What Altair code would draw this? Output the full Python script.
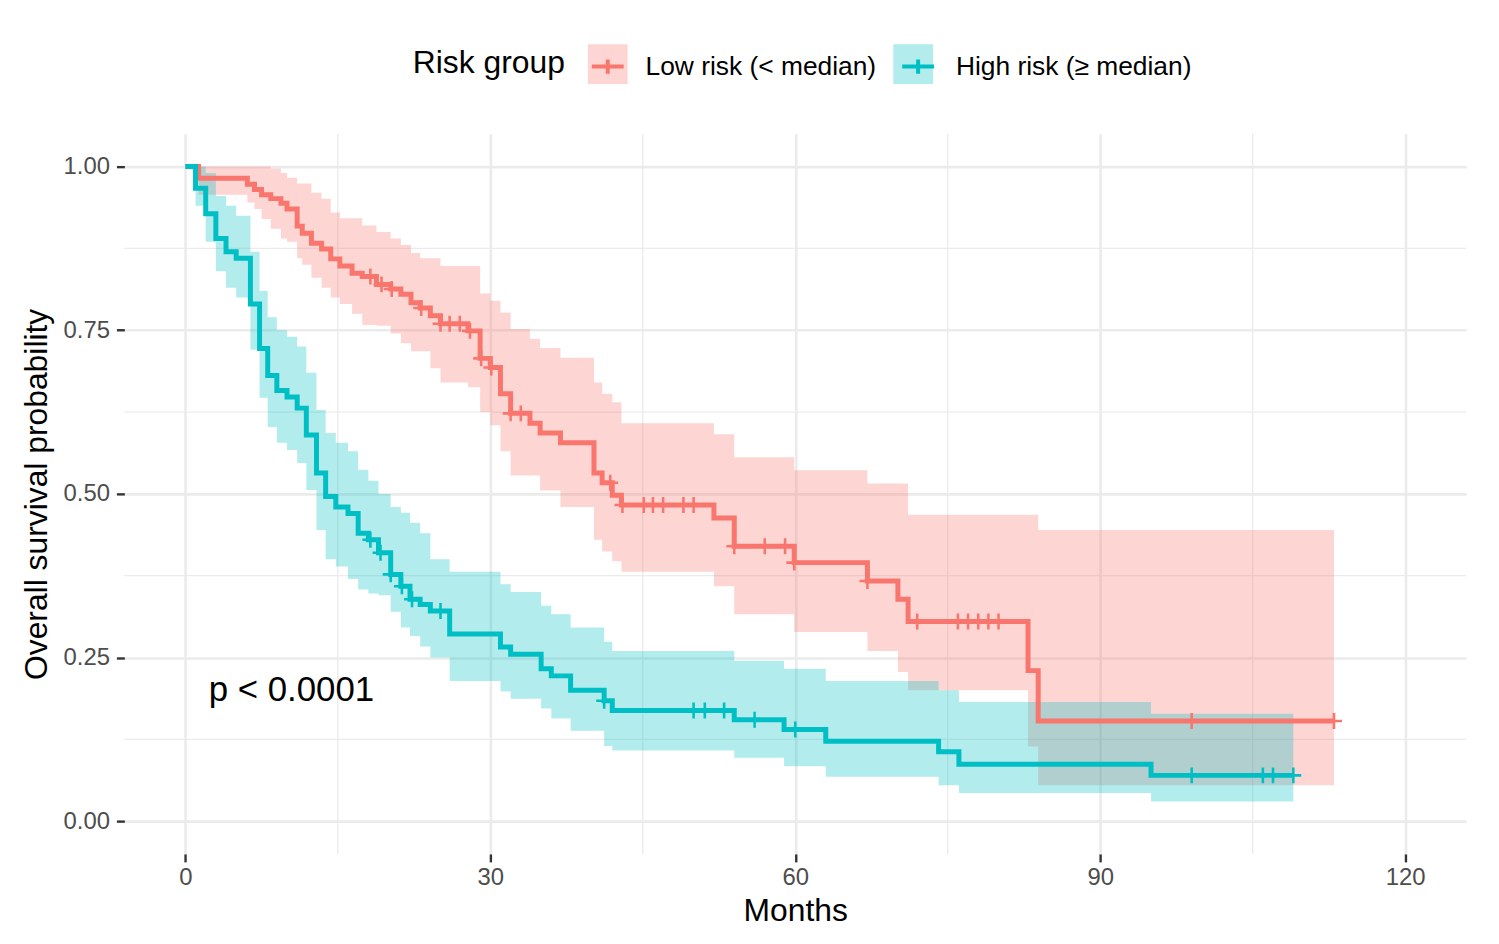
import altair as alt
import pandas as pd

FONT = "Liberation Sans"
LOW = "Low risk (< median)"
HIGH = "High risk (\u2265 median)"
RED = "#F8766D"
TEAL = "#00BFC4"

# ---- Low risk group (Kaplan-Meier steps) ----
low_t = [0, 1.3, 6.1, 6.8, 7.5, 8.4, 9.4, 10.0, 11.0, 11.5, 12.4, 13.4, 14.3, 15.2, 16.4, 17.4,
         18.8, 20.2, 21.2, 22.2, 23.1, 24.1, 25.1, 27.8, 29.0, 30.0, 31.0, 32.0, 33.9, 34.9,
         36.9, 40.2, 41.0, 42.0, 42.9, 52.0, 54.0, 59.9, 67.1, 70.1, 71.1, 82.9, 83.9]
low_s = [1.0, 0.982, 0.973, 0.965, 0.957, 0.951, 0.944, 0.935, 0.909, 0.898, 0.883, 0.874, 0.859,
         0.848, 0.837, 0.832, 0.82, 0.813, 0.805, 0.792, 0.784, 0.772, 0.76, 0.749, 0.707, 0.693,
         0.653, 0.623, 0.608, 0.593, 0.578, 0.532, 0.517, 0.498, 0.483, 0.463, 0.42, 0.395, 0.367,
         0.339, 0.305, 0.23, 0.153]
low_upper = [1.0, 1.0, 1.0, 1.0, 1.0, 0.997, 0.99, 0.983, 0.974, 0.974, 0.96, 0.951, 0.93, 0.921,
             0.921, 0.91, 0.9, 0.89, 0.88, 0.868, 0.86, 0.86, 0.848, 0.848, 0.806, 0.795, 0.777,
             0.752, 0.737, 0.723, 0.708, 0.67, 0.653, 0.64, 0.608, 0.591, 0.556, 0.536, 0.516,
             0.516, 0.468, 0.468, 0.445]
low_lower = [1.0, 0.957, 0.945, 0.935, 0.92, 0.905, 0.89, 0.885, 0.86, 0.85, 0.83, 0.815, 0.8, 0.79,
             0.775, 0.758, 0.757, 0.745, 0.73, 0.718, 0.718, 0.692, 0.67, 0.663, 0.625, 0.605,
             0.565, 0.528, 0.528, 0.505, 0.48, 0.43, 0.412, 0.397, 0.381, 0.359, 0.316, 0.289,
             0.26, 0.228, 0.2, 0.114, 0.055]
low_end = 113.0
low_censor = [18.2, 19.3, 20.3, 23.2, 25.1, 26.0, 27.0, 28.0, 29.1, 30.1, 32.0, 33.0, 41.8, 43.0,
              45.1, 46.0, 47.0, 49.0, 50.0, 54.0, 57.0, 59.0, 59.9, 67.1, 72.0, 76.0, 77.0, 78.0,
              79.0, 80.0, 99.0, 113.0]

# ---- High risk group ----
high_t = [0, 1.0, 2.0, 3.0, 4.0, 5.0, 6.4, 7.3, 8.1, 9.0, 10.0, 11.0, 11.9, 12.9, 13.8, 14.8, 16.0,
          17.0, 18.0, 19.0, 20.2, 21.2, 22.1, 23.1, 24.1, 26.0, 31.0, 32.0, 35.0, 36.0, 37.9, 41.2,
          42.0, 54.0, 58.9, 63.0, 74.1, 76.1, 95.0]
high_s = [1.0, 0.967, 0.928, 0.89, 0.87, 0.86, 0.79, 0.722, 0.681, 0.658, 0.648, 0.631, 0.59, 0.532,
          0.496, 0.48, 0.47, 0.44, 0.43, 0.41, 0.377, 0.359, 0.339, 0.331, 0.321, 0.286, 0.266,
          0.255, 0.233, 0.222, 0.2, 0.184, 0.169, 0.155, 0.14, 0.122, 0.106, 0.087, 0.07]
high_upper = [1.0, 1.0, 0.99, 0.955, 0.94, 0.925, 0.87, 0.81, 0.77, 0.75, 0.74, 0.725, 0.685, 0.628,
              0.593, 0.578, 0.565, 0.537, 0.52, 0.5, 0.48, 0.471, 0.456, 0.44, 0.4, 0.381, 0.362,
              0.35, 0.329, 0.316, 0.296, 0.274, 0.26, 0.245, 0.233, 0.214, 0.2, 0.182, 0.164]
high_lower = [1.0, 0.94, 0.885, 0.84, 0.815, 0.8, 0.72, 0.647, 0.602, 0.578, 0.567, 0.547, 0.506,
              0.445, 0.40, 0.389, 0.37, 0.354, 0.348, 0.345, 0.32, 0.296, 0.283, 0.267, 0.25,
              0.214, 0.198, 0.187, 0.172, 0.157, 0.138, 0.115, 0.108, 0.097, 0.084, 0.068, 0.055,
              0.043, 0.03]
high_end = 109.0
high_censor = [18.2, 19.2, 20.2, 21.3, 22.3, 25.1, 41.2, 50.0, 51.1, 53.0, 56.0, 60.0, 99.0, 106.0,
               107.0, 109.0]

x_ticks = [0, 30, 60, 90, 120]
y_ticks = [0.0, 0.25, 0.5, 0.75, 1.0]
minor_x = [15, 45, 75, 105]
minor_y = [0.125, 0.375, 0.625, 0.875]
pval_label = ["p < 0.0001"]
pval_pos = [2.3, 0.2]

groups = [
    (LOW, low_t, low_s, low_upper, low_lower, low_end, low_censor),
    (HIGH, high_t, high_s, high_upper, high_lower, high_end, high_censor),
]

step_rows, cens_rows = [], []
for name, ts, ss, us, ls, end, cens in groups:
    for t, s, u, l in zip(ts, ss, us, ls):
        step_rows.append({"group": name, "band_group": name, "t": t, "s": s, "upper": u, "lower": l})
    step_rows.append({"group": name, "band_group": name, "t": end, "s": ss[-1],
                      "upper": us[-1], "lower": ls[-1]})
    for c in cens:
        val = ss[0]
        for t, s in zip(ts, ss):
            if t <= c:
                val = s
        cens_rows.append({"group": name, "t": c, "s": val})

steps = pd.DataFrame(step_rows)
cens = pd.DataFrame(cens_rows)
pval = pd.DataFrame({"t": [pval_pos[0]], "s": [pval_pos[1]], "label": pval_label})
mx = pd.DataFrame({"v": minor_x})
my = pd.DataFrame({"v": minor_y})

xs = alt.Scale(domain=[-6, 126], nice=False, zero=False)
ys = alt.Scale(domain=[-0.05, 1.05], nice=False, zero=False)
order = [LOW, HIGH]
colors = alt.Scale(range=[RED, TEAL])

# legend with title + labels + line/plus keys
legend_keys = alt.Legend(
    orient="none", legendX=290, legendY=-90, direction="horizontal",
    title="Risk group", titleOrient="left", titleAnchor="middle", titleBaseline="middle",
    titleFont=FONT, titleFontSize=32, titleFontWeight="normal", titleColor="black",
    labelFont=FONT, labelFontSize=26.5, labelColor="black", labelLimit=0,
    symbolSize=1600, labelOffset=16, columnPadding=18, titlePadding=21, padding=0,
    symbolType="M-0.8,0H0.8M0,-0.36V0.36", symbolStrokeWidth=4,
    symbolFillColor="transparent",
)
# background squares of the legend keys (no text of their own)
legend_boxes = alt.Legend(
    orient="none", legendX=466, legendY=-90, direction="horizontal", title=None,
    labelExpr="''", labelFontSize=26.5, labelOffset=0, labelLimit=0,
    symbolSize=1600, symbolType="square", symbolOpacity=0.3, symbolStrokeWidth=0,
    columnPadding=267, padding=0,
)

x_enc = alt.X("t:Q", scale=xs, axis=alt.Axis(values=x_ticks, title="Months", labelPadding=4,
                                             titlePadding=6, format="d"))
y_enc = alt.Y("s:Q", scale=ys, axis=alt.Axis(values=y_ticks, title="Overall survival probability",
                                             format=".2f", labelPadding=7, titlePadding=10))

grid_x = alt.Chart(mx).mark_rule(color="#EBEBEB", strokeWidth=1.3).encode(
    x=alt.X("v:Q", scale=xs))
grid_y = alt.Chart(my).mark_rule(color="#EBEBEB", strokeWidth=1.3).encode(
    y=alt.Y("v:Q", scale=ys))

bands = alt.Chart(steps).mark_area(interpolate="step-after", opacity=0.3).encode(
    x=x_enc,
    y=alt.Y("lower:Q", scale=ys),
    y2="upper:Q",
    fill=alt.Fill("band_group:N", sort=order, scale=colors, legend=legend_boxes),
)

lines = alt.Chart(steps).mark_line(interpolate="step-after", strokeWidth=5).encode(
    x=x_enc,
    y=y_enc,
    stroke=alt.Stroke("group:N", sort=order, scale=colors, legend=legend_keys),
)

marks = alt.Chart(cens).mark_point(shape="M-1,0H1M0,-1V1", size=256, strokeWidth=2.6,
                                   filled=False, opacity=1).encode(
    x=alt.X("t:Q", scale=xs),
    y=alt.Y("s:Q", scale=ys),
    stroke=alt.Stroke("group:N", sort=order, scale=colors, legend=None),
)

ptext = alt.Chart(pval).mark_text(align="left", baseline="middle", font=FONT, fontSize=35,
                                  color="black").encode(
    x=alt.X("t:Q", scale=xs), y=alt.Y("s:Q", scale=ys), text="label:N")

chart = alt.layer(grid_x, grid_y, bands, lines, marks, ptext).properties(
    width=1349, height=724,
    autosize=alt.AutoSizeParams(type="none"),
    padding={"left": 117, "top": 124, "right": 25, "bottom": 80},
    background="white",
).configure_view(stroke=None).configure_axis(
    domain=False, grid=True, gridColor="#EBEBEB", gridWidth=2.6,
    ticks=True, tickColor="#333333", tickWidth=2.4, tickSize=8,
    labelFont=FONT, labelFontSize=24, labelColor="#4D4D4D",
    titleFont=FONT, titleFontSize=32, titleFontWeight="normal", titleColor="black",
)

chart.save("out.html", embed_options={"renderer": "svg", "actions": False})
